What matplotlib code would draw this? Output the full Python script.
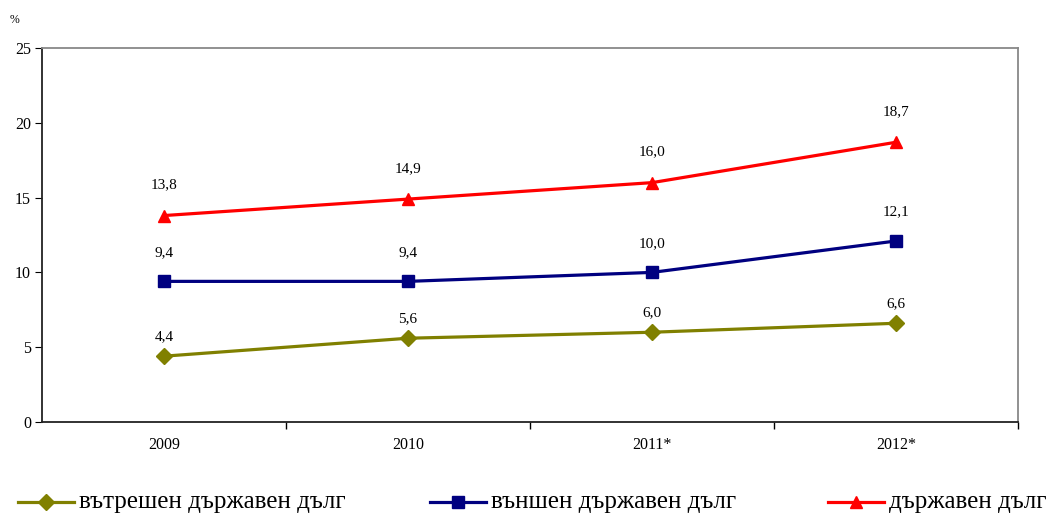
import matplotlib
matplotlib.use("Agg")
import matplotlib.pyplot as plt
from matplotlib.lines import Line2D

plt.rcParams['font.family'] = ['Liberation Serif', 'DejaVu Serif']

years = ["2009", "2010", "2011*", "2012*"]
internal = [4.4, 5.6, 6.0, 6.6]
external = [9.4, 9.4, 10.0, 12.1]
total = [13.8, 14.9, 16.0, 18.7]
names = ["вътрешен държавен дълг", "външен държавен дълг", "държавен дълг"]

fig = plt.figure(figsize=(10.57, 5.14), dpi=100)
ax = fig.add_axes([42/1057, 1 - 422/514, (1018-42)/1057, (422-48)/514])

x = list(range(len(years)))
series = [
    (internal, "#808000", "D", 8, 14),
    (external, "#000080", "s", 8, 21),
    (total, "#FF0000", "^", 9, 22),
]
for vals, color, mk, ms, off in series:
    ax.plot(x, vals, color=color, lw=2.3, marker=mk, ms=ms, mec=color, mfc=color)
    for xi, v in zip(x, vals):
        ax.annotate(f"{v:.1f}".replace(".", ","), (xi, v), xytext=(0, off),
                    textcoords="offset points", ha="center", va="center", fontsize=11)

ax.set_xlim(-0.5, 3.5)
ax.set_ylim(0, 25)
ax.set_yticks([0, 5, 10, 15, 20, 25])
ax.set_xticks(x)
ax.set_xticklabels(years)
ax.set_xticks([0.5, 1.5, 2.5, 3.5], minor=True)
ax.tick_params(axis='x', which='major', length=0, pad=11, labelsize=11.5)
ax.tick_params(axis='x', which='minor', length=5, direction='out', width=1)
ax.tick_params(axis='y', length=5, direction='out', labelsize=11.5, pad=3)
for s in ['left', 'bottom']:
    ax.spines[s].set_color('#222222')
    ax.spines[s].set_linewidth(1.3)
for s in ['top', 'right']:
    ax.spines[s].set_color('#888888')
    ax.spines[s].set_linewidth(1.3)

fig.text(14/1057, 1 - 20/514, "%", fontsize=8.5, ha='center', va='center')

legend_pos = [18, 430, 828]
ly = 1 - 502/514
for (vals, color, mk, ms, off), name, lx in zip(series, names, legend_pos):
    ln = Line2D([lx/1057, (lx+56)/1057], [ly]*2, transform=fig.transFigure,
                color=color, lw=2.3)
    fig.add_artist(ln)
    mk_ln = Line2D([(lx+28)/1057], [ly], transform=fig.transFigure,
                   color=color, marker=mk, ms=ms, mec=color, mfc=color, lw=0)
    fig.add_artist(mk_ln)
    fig.text((lx+61)/1057, ly, name, fontsize=18, ha='left', va='center')

fig.savefig("out.png", dpi=100)
